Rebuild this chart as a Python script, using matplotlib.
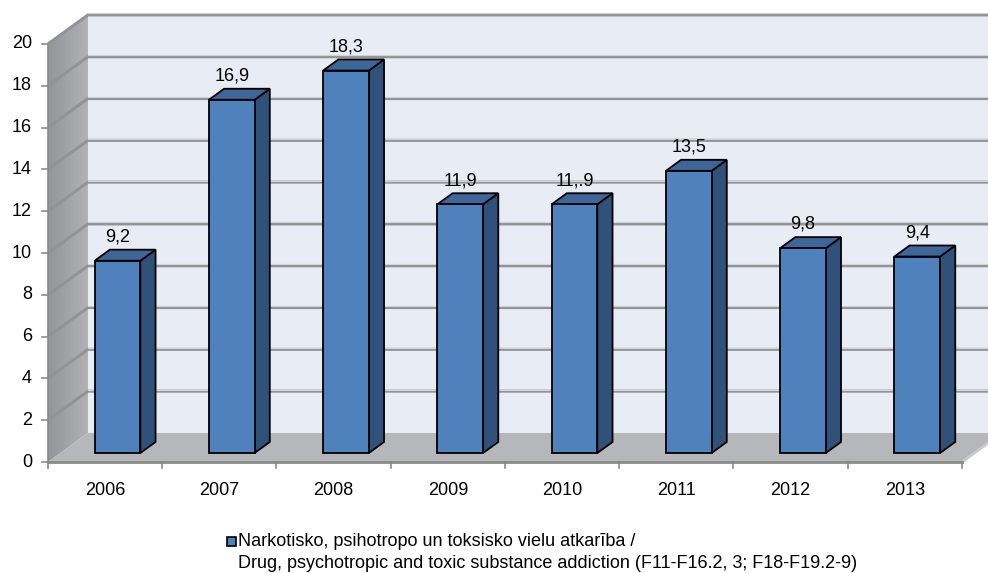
import numpy as np
import matplotlib
matplotlib.use("Agg")
import matplotlib.pyplot as plt
from matplotlib.patches import Polygon

years = ["2006", "2007", "2008", "2009", "2010", "2011", "2012", "2013"]
values = [9.2, 16.9, 18.3, 11.9, 11.9, 13.5, 9.8, 9.4]
value_labels = ["9,2", "16,9", "18,3", "11,9", "11,.9", "13,5", "9,8", "9,4"]
y_ticks = [0, 2, 4, 6, 8, 10, 12, 14, 16, 18, 20]
legend_lines = ["Narkotisko, psihotropo un toksisko vielu atkarība /",
                "Drug, psychotropic and toxic substance addiction (F11-F16.2, 3; F18-F19.2-9)"]

plt.rcParams['font.family'] = ['Liberation Sans', 'DejaVu Sans']
FS = 13

# pseudo-3d geometry (category units / value units)
DX, DY = 0.35, 1.39      # shift of the back plane
D0, D1 = 0.31, 0.69      # depth range of the bars
HALF = 0.2               # half bar width
n = len(years)
ymax = 20


def P(x, y, d):
    return (x + d * DX, y + d * DY)


fig = plt.figure(figsize=(9.88, 5.73), dpi=100)
ax = fig.add_axes([0, 0, 1, 1])
ax.set_xlim(-0.42, 8.228)
ax.set_ylim(-5.31, 22.105)
ax.axis('off')

# back wall
back = Polygon([P(0, 0, 1), P(n + 1, 0, 1), P(n + 1, ymax, 1), P(0, ymax, 1)],
               closed=True, facecolor='#e8ecf5', edgecolor='none', zorder=1)
ax.add_patch(back)

# left wall with gradient
left = Polygon([P(0, 0, 0), P(0, 0, 1), P(0, ymax, 1), P(0, ymax, 0)],
               closed=True, facecolor='none', edgecolor='none', zorder=2)
ax.add_patch(left)
grad = np.linspace(0, 1, 50).reshape(1, -1)
im = ax.imshow(grad, extent=(0, DX, 0, ymax + DY), aspect='auto', origin='lower',
               cmap=matplotlib.colors.LinearSegmentedColormap.from_list('lw', ['#939598', '#b0b2b5']),
               zorder=2)
im.set_clip_path(left)

# floor
floor = Polygon([P(0, 0, 0), P(n, 0, 0), P(n, 0, 1), P(0, 0, 1)],
                closed=True, facecolor='#b6b7ba', edgecolor='none', zorder=3)
ax.add_patch(floor)
ax.plot(*zip(P(n, 0, 0), P(n, 0, 1.3)), color='#c8c9cc', lw=2, zorder=3)

# gridlines
for t in y_ticks[1:]:
    xs, ys = zip(P(0, t, 0), P(0, t, 1), P(n + 1, t, 1))
    ax.plot(xs, ys, color='#939393', lw=2.2, zorder=4, solid_capstyle='butt')
    ax.plot(xs[1:], [y + 0.07 for y in ys[1:]], color='#d0d3d8', lw=0.8, zorder=4)

# axes lines and ticks
ax.plot([0, n], [0, 0], color='#8a8a8a', lw=2, zorder=5)
ax.plot([0, 0], [0, ymax], color='#8a8a8a', lw=1.2, zorder=5)
for t in y_ticks:
    ax.plot([-0.05, 0], [t, t], color='#8a8a8a', lw=1.2, zorder=5)
    ax.text(-0.14, t, str(t), ha='right', va='center', fontsize=FS, color='black')
for i in range(n + 1):
    ax.plot([i, i], [0, -0.3], color='#8a8a8a', lw=1.2, zorder=5)
for i, yr in enumerate(years):
    ax.text(i + 0.5, -1.35, yr, ha='center', va='center', fontsize=FS, color='black')

# bars
for i, v in enumerate(values):
    c = i + 0.5
    xl, xr = c - HALF, c + HALF
    side = Polygon([P(xr, 0, D0), P(xr, 0, D1), P(xr, v, D1), P(xr, v, D0)],
                   closed=True, facecolor='#30527a', edgecolor='black', lw=1.3, zorder=6)
    top = Polygon([P(xl, v, D0), P(xr, v, D0), P(xr, v, D1), P(xl, v, D1)],
                  closed=True, facecolor='#3f6699', edgecolor='black', lw=1.3, zorder=6)
    front = Polygon([P(xl, 0, D0), P(xr, 0, D0), P(xr, v, D0), P(xl, v, D0)],
                    closed=True, facecolor='#4f81bd', edgecolor='black', lw=1.3, zorder=7)
    for p in (side, top, front):
        ax.add_patch(p)
    lx, ly = P(c, v, D0)
    ax.text(lx, v + D1 * DY + 0.2, value_labels[i], ha='center', va='bottom',
            fontsize=FS, color='black', zorder=8)

# legend
ax.add_patch(plt.Rectangle((-0.42 + 227 / 114.25, 22.105 - 546 / 20.9),
                           9 / 114.25, 9 / 20.9, facecolor='#4f81bd', edgecolor='black',
                           lw=1.2, zorder=8))
fig.text(238 / 988, 1 - 541 / 573, legend_lines[0], ha='left', va='center', fontsize=FS)
fig.text(238 / 988, 1 - 563 / 573, legend_lines[1], ha='left', va='center', fontsize=FS)

fig.savefig("out.png", dpi=100)
